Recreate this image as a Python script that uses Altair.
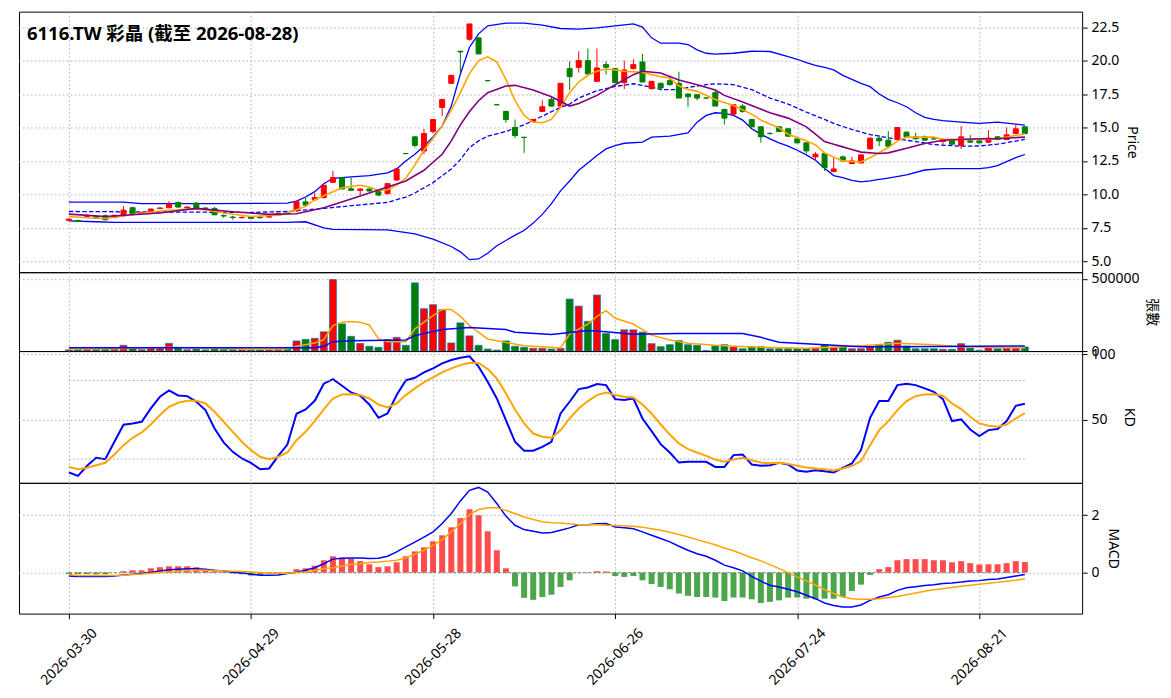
import altair as alt
import pandas as pd

title_text = "6116.TW 彩晶 (截至 2026-08-28)"
tick_idx = [0, 20, 40, 60, 80, 100]
tick_labels = ["2026-03-30", "2026-04-29", "2026-05-28", "2026-06-26", "2026-07-24", "2026-08-21"]

opens = [8.05, 8.05, 8.35, 8.35, 8.40, 8.27, 8.40, 9.00, 8.58, 8.65,
         8.94, 9.00, 9.40, 8.98, 9.35, 8.98, 8.95, 8.42, 8.30, 8.25,
         8.30, 8.30, 8.30, 8.45, 8.65, 8.77, 9.44, 9.60, 9.76, 10.90,
         11.25, 10.42, 10.30, 10.40, 10.20, 10.05, 11.07, 13.05, 14.30, 13.24,
         14.70, 16.50, 18.30, 20.70, 21.60, 21.70, 18.50, 16.70, 16.20, 15.00,
         14.27, 15.45, 16.20, 17.10, 16.60, 19.40, 19.50, 20.00, 18.45, 19.70,
         19.40, 18.35, 19.40, 19.90, 17.90, 18.30, 18.50, 18.30, 17.50, 17.45,
         17.20, 17.60, 16.35, 16.00, 16.60, 15.60, 15.05, 14.55, 15.05, 14.90,
         14.15, 13.85, 12.80, 13.05, 11.70, 12.80, 12.30, 12.35, 13.40, 14.20,
         14.05, 14.10, 14.65, 14.30, 14.30, 14.15, 13.95, 14.00, 13.65, 14.00,
         14.00, 13.90, 14.30, 14.10, 14.55, 15.05]
highs = [8.20, 8.10, 8.50, 8.40, 8.50, 8.45, 9.13, 9.05, 8.70, 8.95,
         9.05, 9.50, 9.45, 9.10, 9.40, 9.02, 9.05, 8.50, 8.40, 8.35,
         8.35, 8.35, 8.40, 8.55, 8.70, 9.50, 9.76, 10.10, 10.70, 11.75,
         11.30, 11.25, 10.45, 10.45, 10.25, 10.80, 11.90, 13.10, 14.35, 14.90,
         15.60, 17.10, 18.90, 20.73, 22.74, 21.72, 18.52, 16.72, 16.25, 15.60,
         14.30, 15.62, 17.03, 17.28, 18.30, 19.95, 20.70, 20.90, 20.90, 19.95,
         19.45, 20.00, 20.10, 20.50, 18.45, 18.35, 18.87, 19.17, 17.55, 17.50,
         17.22, 17.83, 16.40, 16.70, 16.75, 15.65, 15.10, 14.65, 15.10, 14.95,
         14.20, 13.90, 13.16, 13.10, 12.74, 12.90, 12.80, 13.00, 14.25, 14.40,
         14.73, 15.00, 14.70, 14.60, 14.40, 14.25, 14.15, 14.05, 15.10, 14.43,
         14.05, 14.80, 14.35, 15.00, 15.22, 15.10]
lows = [8.00, 7.92, 8.30, 8.15, 8.05, 8.20, 8.35, 8.50, 8.55, 8.60,
        8.90, 8.95, 9.00, 8.90, 8.95, 8.88, 8.45, 8.25, 8.10, 8.20,
        8.15, 8.20, 8.25, 8.40, 8.50, 8.70, 9.15, 9.50, 9.70, 10.85,
        10.40, 10.25, 9.95, 10.20, 9.85, 10.00, 11.00, 13.00, 13.50, 13.00,
        14.55, 15.85, 18.25, 19.07, 21.50, 20.50, 18.45, 16.65, 15.35, 14.20,
        13.10, 15.40, 16.15, 16.55, 16.55, 17.80, 19.10, 19.00, 18.40, 18.95,
        18.35, 17.88, 19.35, 18.40, 17.85, 17.85, 18.15, 17.20, 16.53, 17.03,
        17.18, 16.60, 15.22, 15.95, 16.10, 15.00, 13.86, 14.45, 14.65, 14.30,
        13.80, 13.06, 12.49, 11.75, 11.65, 12.40, 12.25, 12.30, 13.35, 13.60,
        13.55, 14.05, 14.25, 14.10, 14.00, 14.10, 13.70, 13.70, 13.40, 13.85,
        13.80, 13.85, 14.05, 14.05, 14.50, 14.50]
closes = [8.15, 7.97, 8.40, 8.20, 8.10, 8.44, 8.82, 8.52, 8.63, 8.90,
          8.98, 9.25, 9.05, 9.05, 8.97, 8.94, 8.47, 8.38, 8.27, 8.28,
          8.20, 8.25, 8.35, 8.55, 8.58, 9.44, 9.20, 9.76, 10.68, 11.25,
          10.40, 10.30, 10.40, 10.25, 9.95, 10.80, 11.90, 13.05, 13.66, 14.55,
          15.60, 17.10, 18.90, 20.65, 22.74, 20.50, 18.50, 16.70, 15.60, 14.40,
          14.25, 15.60, 16.55, 16.60, 18.30, 18.80, 20.00, 19.00, 19.45, 19.50,
          18.35, 19.30, 19.70, 18.40, 18.45, 17.95, 18.20, 17.20, 17.30, 17.20,
          17.20, 16.60, 15.70, 16.70, 16.20, 15.05, 14.30, 14.55, 14.70, 14.35,
          13.85, 13.25, 13.00, 12.00, 11.90, 12.50, 12.50, 12.95, 14.20, 14.00,
          13.60, 15.00, 14.30, 14.15, 14.05, 14.15, 14.10, 13.75, 14.30, 13.90,
          13.85, 14.20, 14.10, 14.45, 14.90, 14.55]
volumes = [8000, 10000, 12000, 12000, 15000, 14000, 40000, 21000, 9000, 19000,
           17000, 53000, 21000, 9000, 14000, 8000, 19000, 12000, 10000, 9000,
           9000, 10000, 10000, 12000, 14000, 70000, 81000, 88000, 133000, 495000,
           188000, 102000, 53000, 33000, 26000, 79000, 95000, 40000, 472000, 293000,
           321000, 286000, 56000, 195000, 105000, 40000, 14000, 7000, 70000, 33000,
           26000, 19000, 19000, 14000, 19000, 360000, 311000, 206000, 388000, 121000,
           79000, 147000, 147000, 131000, 51000, 30000, 44000, 72000, 44000, 40000,
           3000, 35000, 44000, 28000, 16000, 30000, 30000, 16000, 16000, 16000,
           16000, 16000, 21000, 44000, 28000, 30000, 16000, 16000, 28000, 44000,
           61000, 75000, 35000, 16000, 16000, 16000, 12000, 12000, 51000, 21000,
           5000, 26000, 16000, 21000, 23000, 28000]

# Bollinger bands and moving averages (read at sample bars)
bb_up_idx = [0, 6, 8, 16, 24, 25, 26, 27, 28, 29, 31, 33, 35, 36, 37, 38, 39, 40, 41, 42,
             43, 44, 45, 46, 48, 50, 52, 54, 56, 58, 60, 62, 63, 64, 65, 67, 68, 69, 70, 71,
             73, 75, 77, 79, 80, 81, 82, 83, 84, 85, 86, 87, 88, 89, 90, 91, 92, 93, 94, 95,
             96, 98, 100, 102, 105]
bb_up_val = [9.42, 9.42, 9.3, 9.3, 9.35, 9.5, 9.8, 10.2, 10.8, 11.2, 11.3, 11.4, 11.6, 11.9, 12.5, 13.0, 13.6, 14.3, 15.1, 16.6,
             19.0, 21.0, 22.0, 22.6, 22.8, 22.8, 22.65, 22.4, 22.35, 22.45, 22.6, 22.75, 22.5, 21.7, 21.3, 21.3, 21.2, 20.8, 20.55, 20.48,
             20.55, 20.7, 20.68, 20.3, 20.1, 19.85, 19.65, 19.5, 19.3, 18.9, 18.6, 18.3, 18.05, 17.5, 17.1, 16.85, 16.55, 16.1, 15.75, 15.6,
             15.52, 15.4, 15.3, 15.4, 15.17]
bb_mid_idx = [0, 10, 20, 24, 28, 31, 35, 37, 38, 40, 42, 43, 44, 45, 46, 48, 50, 52, 54, 55,
              56, 58, 60, 62, 64, 65, 67, 68, 70, 71, 73, 75, 77, 79, 81, 83, 84, 86, 88, 90,
              93, 95, 98, 100, 102, 104, 105]
bb_mid_val = [8.72, 8.68, 8.65, 8.72, 8.95, 9.15, 9.4, 9.8, 10.1, 10.88, 11.9, 12.6, 13.5, 14.0, 14.35, 14.7, 15.2, 15.85, 16.5, 16.75,
              17.2, 17.75, 18.07, 18.27, 18.02, 17.83, 17.83, 18.0, 18.2, 18.27, 18.2, 17.83, 17.2, 16.75, 16.15, 15.6, 15.3, 14.85, 14.47, 14.23,
              13.95, 13.72, 13.6, 13.62, 13.75, 13.98, 14.11]
bb_low_idx = [0, 3, 5, 24, 26, 28, 29, 35, 38, 40, 42, 43, 44, 45, 46, 47, 48, 49, 50, 51,
              52, 53, 54, 55, 56, 57, 58, 59, 60, 61, 63, 64, 66, 68, 69, 70, 71, 72, 73, 74,
              75, 76, 77, 78, 79, 80, 81, 82, 83, 84, 85, 86, 87, 88, 89, 90, 92, 94, 96, 100,
              101, 102, 103, 104, 105]
bb_low_val = [8.02, 7.95, 7.9, 7.9, 7.95, 7.5, 7.38, 7.35, 7.05, 6.66, 6.1, 5.7, 5.12, 5.17, 5.6, 6.16, 6.55, 6.95, 7.3, 7.85,
              8.5, 9.3, 10.26, 11.0, 11.8, 12.35, 12.9, 13.4, 13.65, 13.82, 13.9, 14.28, 14.36, 14.6, 15.4, 15.9, 16.1, 16.05, 15.9, 15.55,
              14.9, 14.5, 14.15, 13.85, 13.6, 13.3, 12.95, 12.55, 11.95, 11.4, 11.25, 11.05, 10.93, 11.0, 11.12, 11.22, 11.45, 11.82, 11.92, 11.92,
              12.0, 12.15, 12.45, 12.75, 12.98]
ma_fast_idx = [0, 2, 4, 7, 10, 13, 15, 17, 20, 23, 24, 25, 26, 27, 29, 30, 32, 33, 34, 35,
               36, 37, 38, 39, 40, 41, 42, 43, 44, 45, 46, 47, 48, 49, 50, 51, 52, 53, 54, 55,
               56, 57, 58, 59, 60, 61, 63, 65, 66, 67, 68, 69, 71, 73, 75, 76, 78, 79, 80, 81,
               82, 83, 84, 85, 87, 88, 90, 91, 92, 95, 96, 100, 102, 104, 105]
ma_fast_val = [8.35, 8.25, 8.2, 8.5, 8.75, 8.9, 8.85, 8.6, 8.35, 8.45, 8.62, 8.85, 9.1, 9.6, 10.2, 10.5, 10.68, 10.55, 10.3, 10.35,
               10.7, 11.2, 12.2, 13.3, 14.2, 15.1, 16.3, 17.6, 19.05, 20.0, 20.28, 19.9, 18.6, 17.0, 15.9, 15.4, 15.35, 15.6, 16.5, 17.6,
               18.4, 18.9, 19.2, 19.37, 19.3, 19.2, 19.12, 18.8, 18.7, 18.1, 17.85, 17.7, 17.1, 16.65, 16.0, 15.55, 14.97, 14.5, 14.25, 14.0,
               13.7, 13.1, 12.8, 12.5, 12.42, 12.74, 13.5, 13.98, 14.28, 14.28, 14.11, 14.11, 14.16, 14.4, 14.53]
ma_slow_idx = [0, 4, 10, 14, 18, 22, 25, 28, 31, 35, 37, 39, 40, 41, 42, 43, 44, 45, 46, 48,
               49, 51, 53, 55, 56, 58, 60, 62, 63, 65, 67, 69, 71, 72, 74, 77, 79, 81, 82, 83,
               84, 85, 86, 87, 89, 90, 92, 94, 96, 100, 102, 105]
ma_slow_val = [8.52, 8.35, 8.6, 8.95, 8.7, 8.5, 8.55, 9.0, 9.65, 10.55, 11.0, 11.8, 12.4, 13.0, 14.0, 15.2, 16.2, 17.0, 17.6, 18.1,
               18.15, 17.8, 17.3, 16.6, 16.8, 17.4, 18.2, 18.95, 19.2, 19.07, 18.55, 18.2, 17.8, 17.4, 16.9, 16.1, 15.7, 15.05, 14.5, 13.95,
               13.75, 13.55, 13.35, 13.16, 13.06, 13.1, 13.45, 13.8, 14.05, 14.16, 14.16, 14.28]

# volume moving averages
vol_fast_idx = [0, 5, 11, 15, 20, 24, 25, 27, 28, 29, 30, 31, 32, 33, 34, 35, 37, 38, 39, 40,
                41, 42, 43, 44, 45, 46, 48, 50, 53, 54, 55, 57, 58, 59, 60, 62, 64, 66, 68, 71,
                75, 81, 85, 88, 91, 95, 98, 105]
vol_fast_val = [14000, 16000, 26000, 20000, 12000, 14000, 33000, 56000, 79000, 177000, 200000, 205000, 200000, 181000, 84000,
                65000, 65000, 153000, 200000, 245000, 288000, 288000, 240000, 177000, 130000, 84000, 60000, 37000, 26000, 22000,
                117000, 187000, 240000, 280000, 227000, 187000, 110000, 77000, 54000, 40000, 28000, 19000, 30000, 40000, 54000,
                44000, 30000, 21000]
vol_slow_idx = [0, 27, 28, 29, 31, 37, 38, 41, 44, 48, 49, 53, 57, 59, 62, 67, 74, 76, 78, 81, 87, 91, 105]
vol_slow_val = [23000, 23000, 33000, 65000, 72000, 77000, 107000, 149000, 163000, 149000, 130000, 114000, 142000, 133000,
                117000, 121000, 121000, 95000, 61000, 51000, 30000, 30000, 35000]

k_vals = [9.7, 7.1, 14.8, 20.9, 19.9, 33.2, 46.2, 47.2, 48.5, 58.7,
          67.6, 72.4, 68.6, 68.1, 63.8, 57.4, 43.4, 32.7, 25.5, 20.4,
          17.1, 12.2, 12.8, 22.4, 31.1, 54.6, 57.9, 64.5, 77.6, 81.1,
          76.0, 70.9, 68.4, 61.7, 51.5, 54.8, 68.9, 80.1, 82.1, 86.2,
          89.3, 93.1, 95.7, 97.4, 98.5, 90.6, 79.1, 66.3, 49.7, 33.2,
          26.3, 26.3, 29.3, 33.2, 54.8, 63.8, 73.5, 74.7, 77.3, 76.5,
          65.8, 65.1, 66.3, 51.0, 41.3, 31.4, 25.0, 17.3, 17.9, 17.9,
          17.9, 14.0, 14.0, 23.0, 23.5, 15.8, 14.8, 15.3, 17.1, 15.8,
          11.2, 10.2, 11.5, 10.7, 9.7, 13.3, 16.6, 26.8, 51.5, 64.3,
          64.3, 76.5, 77.6, 76.5, 74.0, 71.4, 65.8, 49.0, 50.3, 42.6,
          37.5, 42.1, 42.9, 49.0, 60.7, 62.2]
d_vals = [14.0, 12.2, 13.3, 15.3, 17.1, 23.5, 30.6, 36.2, 40.3, 46.4,
          53.6, 59.9, 63.0, 64.5, 64.5, 62.5, 56.1, 48.5, 40.8, 33.2,
          26.8, 21.7, 19.9, 21.7, 25.0, 34.4, 40.8, 49.0, 57.9, 66.3,
          69.4, 69.6, 68.9, 66.3, 61.7, 59.4, 62.5, 68.9, 74.0, 78.6,
          82.4, 86.2, 89.3, 91.8, 93.6, 93.4, 88.8, 81.6, 70.2, 57.9,
          47.2, 39.5, 37.0, 36.2, 42.0, 51.0, 58.7, 64.3, 68.9, 70.9,
          68.9, 67.6, 67.1, 61.7, 54.8, 46.4, 38.8, 31.9, 27.6, 25.0,
          22.4, 19.6, 17.9, 19.6, 20.9, 19.1, 17.3, 16.8, 17.1, 16.3,
          14.8, 13.5, 12.8, 12.2, 11.2, 12.8, 14.8, 18.4, 30.6, 42.1,
          49.0, 57.4, 64.3, 68.1, 69.4, 69.6, 68.4, 62.5, 58.2, 52.3,
          47.2, 45.4, 44.6, 46.4, 51.0, 55.1]
kd_levels = [20, 80]

dif_vals = [-0.12, -0.14, -0.14, -0.14, -0.14, -0.12, -0.08, -0.06, -0.03, 0.0,
            0.06, 0.10, 0.12, 0.13, 0.13, 0.12, 0.08, 0.06, 0.01, -0.01,
            -0.06, -0.09, -0.09, -0.08, -0.03, 0.01, 0.08, 0.17, 0.31, 0.47,
            0.50, 0.51, 0.51, 0.49, 0.50, 0.57, 0.72, 0.90, 1.06, 1.24,
            1.42, 1.71, 2.06, 2.50, 2.87, 2.97, 2.81, 2.41, 1.97, 1.65,
            1.50, 1.44, 1.38, 1.40, 1.48, 1.56, 1.67, 1.67, 1.70, 1.71,
            1.59, 1.56, 1.53, 1.42, 1.30, 1.19, 1.07, 0.92, 0.78, 0.66,
            0.57, 0.43, 0.26, 0.17, 0.06, -0.13, -0.30, -0.44, -0.50, -0.58,
            -0.67, -0.79, -0.91, -1.06, -1.15, -1.20, -1.20, -1.13, -0.97, -0.85,
            -0.77, -0.62, -0.53, -0.49, -0.45, -0.42, -0.38, -0.36, -0.33, -0.29,
            -0.28, -0.24, -0.22, -0.17, -0.12, -0.07]
dea_vals = [-0.07, -0.10, -0.10, -0.10, -0.10, -0.10, -0.09, -0.07, -0.05, -0.02,
            0.0, 0.02, 0.05, 0.07, 0.08, 0.08, 0.07, 0.06, 0.05, 0.04,
            0.02, 0.0, -0.01, -0.02, -0.02, 0.0, 0.02, 0.07, 0.14, 0.17,
            0.23, 0.28, 0.31, 0.35, 0.37, 0.40, 0.43, 0.51, 0.64, 0.78,
            0.95, 1.15, 1.42, 1.71, 2.02, 2.20, 2.26, 2.26, 2.17, 2.06,
            1.94, 1.85, 1.77, 1.74, 1.73, 1.70, 1.67, 1.67, 1.67, 1.65,
            1.64, 1.63, 1.62, 1.58, 1.53, 1.48, 1.41, 1.33, 1.24, 1.15,
            1.06, 0.97, 0.86, 0.76, 0.64, 0.52, 0.41, 0.28, 0.14, 0.0,
            -0.15, -0.29, -0.44, -0.59, -0.73, -0.85, -0.91, -0.93, -0.93, -0.91,
            -0.87, -0.83, -0.77, -0.71, -0.65, -0.60, -0.56, -0.52, -0.48, -0.44,
            -0.41, -0.37, -0.34, -0.30, -0.27, -0.22]
hist_vals = [-0.05, -0.05, -0.05, -0.06, -0.06, 0.0, 0.05, 0.08, 0.08, 0.15,
             0.19, 0.22, 0.22, 0.22, 0.19, 0.10, 0.05, 0.02, -0.03, -0.06,
             -0.10, -0.08, -0.04, -0.02, -0.01, 0.12, 0.15, 0.24, 0.43, 0.57,
             0.52, 0.49, 0.40, 0.29, 0.19, 0.22, 0.36, 0.57, 0.74, 0.88,
             1.09, 1.30, 1.58, 1.90, 2.21, 2.00, 1.44, 0.78, 0.15, -0.48,
             -0.88, -0.95, -0.85, -0.77, -0.50, -0.27, 0.01, 0.01, 0.05, 0.04,
             -0.12, -0.15, -0.12, -0.27, -0.40, -0.50, -0.58, -0.73, -0.81, -0.85,
             -0.85, -0.87, -0.99, -0.87, -0.87, -0.93, -1.06, -1.02, -0.97, -0.87,
             -0.87, -0.91, -0.93, -0.91, -0.91, -0.85, -0.64, -0.42, -0.08, 0.12,
             0.19, 0.43, 0.47, 0.47, 0.47, 0.43, 0.43, 0.36, 0.40, 0.33,
             0.28, 0.29, 0.29, 0.33, 0.40, 0.37]

# ---------------------------------------------------------------
N = len(closes)
df = pd.DataFrame({
    "idx": list(range(N)), "open": opens, "high": highs, "low": lows, "close": closes,
    "vol": volumes, "k": k_vals, "d": d_vals, "dif": dif_vals, "dea": dea_vals, "hist": hist_vals,
})
df["dir"] = ["up" if c > o else "down" for o, c in zip(opens, closes)]
df["hdir"] = ["pos" if h >= 0 else "neg" for h in hist_vals]
df["zero"] = 0.0


def series(ix, vals):
    return pd.DataFrame({"idx": ix, "val": vals})


FONT = "Noto Sans, Noto Sans CJK TC"
CJK = "Noto Sans CJK TC"
W = 1065
XDOM = [-5.48, 111.29]
x_scale = alt.Scale(domain=XDOM, nice=False, zero=False, padding=0)
dir_scale = alt.Scale(domain=["up", "down"], range=["#ff0000", "#008000"])
hist_scale = alt.Scale(domain=["pos", "neg"], range=["#ff0000", "#008000"])

label_expr = "".join(f"datum.value == {i} ? '{lab}' : " for i, lab in zip(tick_idx, tick_labels)) + "''"

hidden_axis = alt.Axis(values=tick_idx, labels=False, ticks=False, domain=False, grid=True,
                       title=None, minExtent=0, maxExtent=0)
shown_axis = alt.Axis(values=tick_idx, labelExpr=label_expr, labelAngle=-45, labelAlign="center",
                      labelBaseline="middle", labelPadding=38, tickSize=5, grid=True, title=None,
                      labelOverlap=False, domain=False, labelFontSize=14)
x_hidden = alt.X("idx:Q", scale=x_scale, axis=hidden_axis)
x_shown = alt.X("idx:Q", scale=x_scale, axis=shown_axis)


def yaxis(values, fmt, title, pad=6, tfont=FONT):
    return alt.Axis(orient="right", values=values, format=fmt, title=title, grid=True, tickSize=5,
                    labelPadding=4, domain=False, titlePadding=pad, titleFont=tfont)


def line(data, x, yfield, scale, axis, color, width=1.5, dash=None):
    kw = dict(color=color, strokeWidth=width, clip=True)
    if dash:
        kw["strokeDash"] = dash
    return alt.Chart(data).mark_line(**kw).encode(
        x=x, y=alt.Y(f"{yfield}:Q", scale=scale, axis=axis))


# ---------------- price panel ----------------
p_scale = alt.Scale(domain=[4.18, 23.66], nice=False, zero=False, padding=0)
p_axis = yaxis([5, 7.5, 10, 12.5, 15, 17.5, 20, 22.5], ".1f", "Price")

wicks = alt.Chart(df).mark_rule(strokeWidth=1).encode(
    x=x_hidden, y=alt.Y("low:Q", scale=p_scale, axis=p_axis), y2="high:Q",
    color=alt.Color("dir:N", scale=dir_scale, legend=None))
bodies = alt.Chart(df).mark_bar(size=5, strokeWidth=1).encode(
    x=x_hidden, y=alt.Y("open:Q", scale=p_scale, axis=p_axis), y2="close:Q",
    color=alt.Color("dir:N", scale=dir_scale, legend=None),
    stroke=alt.Stroke("dir:N", scale=dir_scale, legend=None))

price_layers = [
    line(series(bb_up_idx, bb_up_val), x_hidden, "val", p_scale, p_axis, "#0000ff", 1.3),
    line(series(bb_low_idx, bb_low_val), x_hidden, "val", p_scale, p_axis, "#0000ff", 1.3),
    line(series(bb_mid_idx, bb_mid_val), x_hidden, "val", p_scale, p_axis, "#0000ff", 1.3, [4.5, 2.2]),
    wicks, bodies,
    line(series(ma_fast_idx, ma_fast_val), x_hidden, "val", p_scale, p_axis, "#ffa500", 1.6),
    line(series(ma_slow_idx, ma_slow_val), x_hidden, "val", p_scale, p_axis, "#800080", 1.6),
]
title_mark = alt.Chart(pd.DataFrame({"t": [title_text]})).mark_text(
    align="left", baseline="alphabetic", fontSize=18.5, fontWeight="bold", font=FONT, color="black"
).encode(x=alt.value(8), y=alt.value(28), text="t:N")
price = alt.layer(*price_layers, title_mark).properties(width=W, height=261)

# ---------------- volume panel ----------------
v_scale = alt.Scale(domain=[0, 546000], nice=False, zero=False, padding=0)
v_axis = yaxis([0, 500000], "d", "張數", 5, CJK)
vbars = alt.Chart(df).mark_bar(size=7, stroke="#1f77b4", strokeWidth=0.8).encode(
    x=x_hidden, y=alt.Y("vol:Q", scale=v_scale, axis=v_axis, stack=None), y2="zero:Q",
    color=alt.Color("dir:N", scale=dir_scale, legend=None))
volume = alt.layer(
    vbars,
    line(series(vol_fast_idx, vol_fast_val), x_hidden, "val", v_scale, v_axis, "#ffa500", 1.5),
    line(series(vol_slow_idx, vol_slow_val), x_hidden, "val", v_scale, v_axis, "#0000ff", 1.5),
).properties(width=W, height=79)

# ---------------- KD panel ----------------
k_scale = alt.Scale(domain=[1.8, 102.55], nice=False, zero=False, padding=0)
k_axis = yaxis([50, 100], "d", "KD")
kd_ref = pd.DataFrame({"lvl": kd_levels, "x0": [0] * len(kd_levels), "x1": [N - 1] * len(kd_levels)})
kd_lines = alt.Chart(kd_ref).mark_rule(color="#a0a0a0", strokeDash=[1.5, 2.5], strokeWidth=1).encode(
    x=alt.X("x0:Q", scale=x_scale, axis=hidden_axis), x2="x1:Q",
    y=alt.Y("lvl:Q", scale=k_scale, axis=k_axis))
kd = alt.layer(
    alt.Chart(df).mark_line(color="#0000ff", strokeWidth=2).encode(
        x=x_hidden, y=alt.Y("k:Q", scale=k_scale, axis=k_axis)),
    alt.Chart(df).mark_line(color="#ffa500", strokeWidth=2).encode(
        x=x_hidden, y=alt.Y("d:Q", scale=k_scale, axis=k_axis)),
    kd_lines,
).properties(width=W, height=132)

# ---------------- MACD panel ----------------
m_scale = alt.Scale(domain=[-1.43, 3.13], nice=False, zero=False, padding=0)
m_axis = yaxis([0, 2], "d", "MACD")
zero_ref = pd.DataFrame({"lvl": [0.0], "x0": [0], "x1": [N - 1]})
hbars = alt.Chart(df).mark_bar(size=6, opacity=0.7).encode(
    x=x_shown, y=alt.Y("hist:Q", scale=m_scale, axis=m_axis, stack=None), y2="zero:Q",
    color=alt.Color("hdir:N", scale=hist_scale, legend=None))
zline = alt.Chart(zero_ref).mark_rule(color="#888888", strokeDash=[3, 2], strokeWidth=1).encode(
    x=alt.X("x0:Q", scale=x_scale, axis=shown_axis), x2="x1:Q",
    y=alt.Y("lvl:Q", scale=m_scale, axis=m_axis))
macd = alt.layer(
    hbars, zline,
    alt.Chart(df).mark_line(color="#0000ff", strokeWidth=1.5).encode(
        x=x_shown, y=alt.Y("dif:Q", scale=m_scale, axis=m_axis)),
    alt.Chart(df).mark_line(color="#ffa500", strokeWidth=1.5).encode(
        x=x_shown, y=alt.Y("dea:Q", scale=m_scale, axis=m_axis)),
).properties(width=W, height=131)

chart = alt.vconcat(price, volume, kd, macd, spacing=0, bounds="flush").properties(
    padding={"left": 10, "top": 2, "right": 4, "bottom": 76}
).configure_view(
    stroke="black", strokeWidth=1
).configure_axis(
    gridColor="#b0b0b0", gridDash=[1.5, 2.5], gridWidth=1, gridOpacity=1,
    tickColor="black", tickWidth=1, labelColor="black", labelFont=FONT, labelFontSize=14,
    titleFont=FONT, titleFontSize=14, titleFontWeight="normal", titleColor="black"
).configure_scale(
    continuousPadding=0
).configure_concat(spacing=0)

chart.save("out.html", embed_options={"renderer": "svg", "actions": False})
